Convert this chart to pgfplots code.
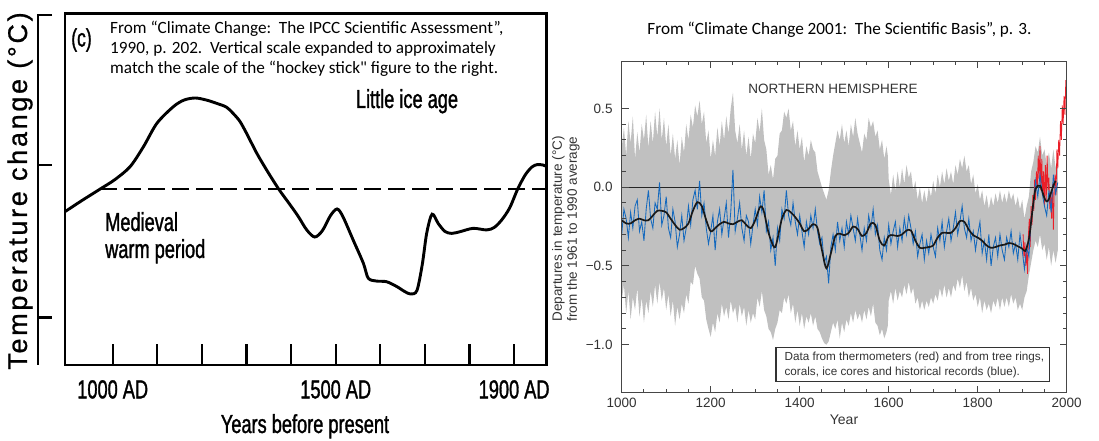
\documentclass[border=0pt]{standalone}
\usepackage{fontspec}
\setmainfont{Liberation Sans}
\newfontfamily\narrowfont[FakeStretch=0.7,FakeBold=1.2]{Liberation Sans}
\newfontfamily\carlito{Carlito}
\newfontfamily\widefont[LetterSpace=10,FakeBold=0.8]{Liberation Sans}
\usepackage{pgfplots}
\pgfplotsset{compat=1.18}
\definecolor{hsblue}{RGB}{20,105,190}
\definecolor{hsred}{RGB}{235,30,40}
\definecolor{hsgray}{RGB}{192,192,192}
\definecolor{txtgray}{RGB}{51,51,51}
\definecolor{axgray}{RGB}{70,70,70}
\begin{document}
\begin{tikzpicture}[x=1pt,y=1pt]
\useasboundingbox (0,0) rectangle (1099,441);
% ---------------- left panel (IPCC 1990) ----------------
\begin{axis}[at={(65pt,76pt)}, anchor=south west, scale only axis,
  width=481.7pt, height=351.7pt,
  xmin=893, xmax=1973, ymin=-1.118, ymax=1.116,
  axis line style={line width=2.7pt, black},
  xtick={1000,1100,...,1900},
  xticklabels={1000 AD,,,,,1500 AD,,,,1900 AD},
  ytick=\empty, xtick pos=bottom, tick align=inside,
  major tick length=21pt,
  major tick style={line width=2.2pt, black},
  xticklabel style={font=\narrowfont\fontsize{26}{30}\selectfont, inner sep=0pt, yshift=-15pt}]
\addplot[black, line width=2.7pt, dash pattern=on 17pt off 7pt] coordinates {(972,0) (1973,0)};
\addplot[black, line width=2.9pt, smooth, tension=0.5] coordinates {
(893,-0.144) (930,-0.075) (972,0.0) (1005,0.06) (1039,0.142) (1069,0.269) (1099,0.417)
(1136,0.523) (1160,0.565) (1185,0.578) (1210,0.565) (1233,0.544) (1255,0.52) (1270,0.48)
(1285,0.43) (1300,0.354) (1323,0.227) (1345,0.121) (1372,0.0) (1395,-0.09) (1415,-0.17)
(1435,-0.26) (1453,-0.305) (1470,-0.265) (1488,-0.17) (1503,-0.127) (1516,-0.175)
(1540,-0.33) (1562,-0.472) (1573,-0.567) (1592,-0.585) (1614,-0.589) (1637,-0.62)
(1655,-0.652) (1668,-0.667) (1682,-0.645) (1694,-0.48) (1704,-0.28) (1716,-0.16)
(1730,-0.22) (1745,-0.27) (1760,-0.282) (1779,-0.271) (1808,-0.25) (1838,-0.26)
(1855,-0.245) (1872,-0.197) (1890,-0.12) (1908,0.0) (1925,0.09) (1940,0.14)
(1952,0.155) (1965,0.152) (1973,0.142)};
\end{axis}
% bracket axis at far left
\draw[line width=2.5pt] (52,426) -- (38,426) -- (38,76);
\draw[line width=2.5pt] (38,276) -- (52,276);
\draw[line width=2.5pt] (38,123.3) -- (52,123.3);
\node[rotate=90] at (20,250) {\widefont\fontsize{27}{30}\selectfont Temperature change (°C)};
\node at (81.5,401) {\narrowfont\fontsize{25}{28}\selectfont (c)};
\node[anchor=base west, inner sep=0pt] at (110,407) {\carlito\fontsize{17.2}{20}\selectfont From “Climate Change:\ \ The IPCC Scientific Assessment”,};
\node[anchor=base west, inner sep=0pt] at (110,387) {\carlito\fontsize{17.2}{20}\selectfont 1990, p. 202.\ \ Vertical scale expanded to approximately};
\node[anchor=base west, inner sep=0pt] at (110,367) {\carlito\fontsize{17.2}{20}\selectfont match the scale of the “hockey stick" figure to the right.};
\node[anchor=base, inner sep=0pt] at (407,333) {\narrowfont\fontsize{26}{30}\selectfont Little ice age};
\node[anchor=base west, inner sep=0pt] at (105,210) {\narrowfont\fontsize{26}{30}\selectfont Medieval};
\node[anchor=base west, inner sep=0pt] at (105,183) {\narrowfont\fontsize{26}{30}\selectfont warm period};
\node[anchor=base, inner sep=0pt] at (305,8) {\narrowfont\fontsize{26}{30}\selectfont Years before present};
% ---------------- right panel (IPCC 2001) ----------------
\begin{axis}[at={(621.7pt,48.3pt)}, anchor=south west, scale only axis,
  width=445pt, height=331.5pt,
  xmin=1000, xmax=2000, ymin=-1.305, ymax=0.8,
  axis line style={line width=1.3pt, axgray},
  xtick={1000,1200,...,2000}, xticklabels={1000,1200,1400,1600,1800,2000},
  ytick={-1,-0.5,0,0.5}, yticklabels={−1.0,−0.5,0.0,0.5},
  minor x tick num=3, minor y tick num=4,
  tick align=inside, major tick length=7pt, minor tick length=4pt,
  major tick style={axgray, line width=1.1pt},
  minor tick style={axgray, line width=1.0pt},
  ticklabel style={font=\fontsize{13.5}{16}\selectfont, text=txtgray, inner sep=0pt},
  xticklabel style={yshift=-5.5pt}, yticklabel style={xshift=-9pt},
  axis on top]
% uncertainty band: upper edge 1000->1980, then lower edge 1980->1000
\addplot[fill=hsgray, draw=none] coordinates {
(1000,0.25) (1005,0.38) (1010,0.20) (1015,0.42) (1020,0.28) (1025,0.45) (1030,0.18) (1035,0.35)
(1040,0.22) (1045,0.40) (1050,0.30) (1055,0.46) (1060,0.25) (1065,0.42) (1070,0.28) (1075,0.48)
(1080,0.32) (1085,0.50) (1090,0.30) (1095,0.44) (1100,0.26) (1105,0.40) (1110,0.20) (1115,0.34)
(1120,0.18) (1125,0.30) (1130,0.14) (1135,0.32) (1140,0.22) (1145,0.40) (1150,0.30) (1155,0.46)
(1160,0.38) (1165,0.52) (1170,0.45) (1175,0.55) (1180,0.40) (1185,0.48) (1190,0.28) (1195,0.36)
(1200,0.18) (1205,0.30) (1210,0.20) (1215,0.38) (1220,0.26) (1225,0.42) (1230,0.30) (1235,0.45)
(1240,0.34) (1245,0.50) (1250,0.60) (1255,0.36) (1260,0.28) (1265,0.40) (1270,0.24) (1275,0.36)
(1280,0.20) (1285,0.32) (1290,0.18) (1295,0.34) (1300,0.28) (1305,0.44) (1310,0.35) (1315,0.50)
(1320,0.30) (1325,0.24) (1330,0.08) (1335,0.14) (1340,0.05) (1345,0.18) (1350,0.20) (1355,0.34)
(1360,0.36) (1365,0.48) (1370,0.44) (1375,0.50) (1380,0.36) (1385,0.42) (1390,0.26) (1395,0.36)
(1400,0.24) (1405,0.32) (1410,0.16) (1415,0.26) (1420,0.20) (1425,0.30) (1430,0.24) (1435,0.22)
(1440,0.10) (1445,0.05) (1450,0.00) (1455,-0.04) (1460,-0.08) (1465,-0.02) (1470,0.10) (1475,0.20)
(1480,0.28) (1485,0.36) (1490,0.30) (1495,0.40) (1500,0.28) (1505,0.36) (1510,0.26) (1515,0.40)
(1520,0.32) (1525,0.44) (1530,0.34) (1535,0.28) (1540,0.22) (1545,0.34) (1550,0.30) (1555,0.44)
(1560,0.38) (1565,0.42) (1570,0.32) (1575,0.36) (1580,0.24) (1585,0.30) (1590,0.18) (1595,0.26)
(1598,0.20) (1600,0.05) (1605,-0.05) (1610,0.08) (1615,-0.02) (1620,0.10) (1625,0.00) (1630,0.12)
(1635,0.02) (1640,0.14) (1645,0.06) (1650,0.10) (1655,-0.02) (1660,0.04) (1665,-0.08) (1670,0.00)
(1675,-0.10) (1680,-0.02) (1685,-0.10) (1690,0.00) (1695,-0.06) (1700,0.04) (1705,-0.04) (1710,0.08)
(1715,0.00) (1720,0.10) (1725,0.02) (1730,0.12) (1735,0.04) (1740,0.10) (1745,0.02) (1750,0.14)
(1755,0.08) (1760,0.18) (1765,0.12) (1770,0.20) (1775,0.10) (1780,0.14) (1785,0.02) (1790,0.08)
(1795,-0.04) (1800,0.02) (1805,-0.08) (1810,-0.02) (1815,-0.12) (1820,-0.05) (1825,-0.14) (1830,-0.06)
(1835,-0.12) (1840,-0.04) (1845,-0.10) (1850,-0.02) (1855,-0.10) (1860,-0.04) (1865,-0.10) (1870,-0.02)
(1875,-0.08) (1880,-0.04) (1885,-0.12) (1890,-0.06) (1895,-0.14) (1900,-0.08) (1905,-0.20) (1910,-0.12)
(1915,-0.06) (1920,0.10) (1925,0.16) (1930,0.26) (1935,0.22) (1940,0.32) (1945,0.20) (1950,0.24)
(1955,0.14) (1960,0.22) (1965,0.12) (1970,0.24) (1975,0.12) (1980,0.20)
(1980,-0.40) (1975,-0.48) (1970,-0.40) (1965,-0.50) (1960,-0.38) (1955,-0.46) (1950,-0.36) (1945,-0.40)
(1940,-0.30) (1935,-0.38) (1930,-0.34) (1925,-0.40) (1920,-0.48) (1915,-0.56) (1910,-0.66) (1905,-0.70)
(1900,-0.78) (1895,-0.74) (1890,-0.78) (1885,-0.70) (1880,-0.74) (1875,-0.68) (1870,-0.76) (1865,-0.70)
(1860,-0.76) (1855,-0.70) (1850,-0.78) (1845,-0.70) (1840,-0.76) (1835,-0.72) (1830,-0.80) (1825,-0.74)
(1820,-0.78) (1815,-0.72) (1810,-0.80) (1805,-0.70) (1800,-0.76) (1795,-0.68) (1790,-0.72) (1785,-0.64)
(1780,-0.70) (1775,-0.60) (1770,-0.66) (1765,-0.56) (1760,-0.64) (1755,-0.58) (1750,-0.66) (1745,-0.62)
(1740,-0.70) (1735,-0.64) (1730,-0.70) (1725,-0.62) (1720,-0.70) (1715,-0.64) (1710,-0.72) (1705,-0.68)
(1700,-0.74) (1695,-0.70) (1690,-0.76) (1685,-0.72) (1680,-0.78) (1675,-0.72) (1670,-0.78) (1665,-0.70)
(1660,-0.74) (1655,-0.64) (1650,-0.68) (1645,-0.60) (1640,-0.68) (1635,-0.62) (1630,-0.70) (1625,-0.66)
(1620,-0.72) (1615,-0.64) (1610,-0.74) (1605,-0.66) (1600,-0.72) (1598,-0.88) (1595,-0.92) (1590,-0.96)
(1585,-0.90) (1580,-0.94) (1575,-0.88) (1570,-0.86) (1565,-0.74) (1560,-0.82) (1555,-0.76) (1550,-0.84)
(1545,-0.78) (1540,-0.86) (1535,-0.80) (1530,-0.84) (1525,-0.78) (1520,-0.86) (1515,-0.80) (1510,-0.88)
(1505,-0.84) (1500,-0.92) (1495,-0.86) (1490,-0.96) (1485,-0.84) (1480,-0.90) (1475,-0.86) (1470,-0.92)
(1465,-0.98) (1460,-1.00) (1455,-0.99) (1450,-0.96) (1445,-0.92) (1440,-0.90) (1435,-0.82) (1430,-0.88)
(1425,-0.80) (1420,-0.86) (1415,-0.82) (1410,-0.90) (1405,-0.80) (1400,-0.88) (1395,-0.78) (1390,-0.86)
(1385,-0.74) (1380,-0.80) (1375,-0.68) (1370,-0.74) (1365,-0.70) (1360,-0.80) (1355,-0.78) (1350,-0.86)
(1345,-0.90) (1340,-0.97) (1335,-0.92) (1330,-0.90) (1325,-0.82) (1320,-0.78) (1315,-0.66) (1310,-0.76)
(1305,-0.70) (1300,-0.84) (1295,-0.80) (1290,-0.86) (1285,-0.78) (1280,-0.88) (1275,-0.76) (1270,-0.82)
(1265,-0.74) (1260,-0.86) (1255,-0.76) (1250,-0.80) (1245,-0.72) (1240,-0.84) (1235,-0.76) (1230,-0.82)
(1225,-0.74) (1220,-0.86) (1215,-0.80) (1210,-0.92) (1205,-0.86) (1200,-0.95) (1195,-0.90) (1190,-0.84)
(1185,-0.72) (1180,-0.70) (1175,-0.58) (1170,-0.55) (1165,-0.50) (1160,-0.62) (1155,-0.60) (1150,-0.74)
(1145,-0.68) (1140,-0.80) (1135,-0.74) (1130,-0.84) (1125,-0.76) (1120,-0.88) (1115,-0.72) (1110,-0.82)
(1105,-0.68) (1100,-0.78) (1095,-0.64) (1090,-0.72) (1085,-0.60) (1080,-0.74) (1075,-0.62) (1070,-0.76)
(1065,-0.66) (1060,-0.80) (1055,-0.72) (1050,-0.86) (1045,-0.70) (1040,-0.82) (1035,-0.64) (1030,-0.78)
(1025,-0.70) (1020,-0.84) (1015,-0.66) (1010,-0.80) (1005,-0.62) (1000,-0.72)} -- cycle;
\addplot[black!85, line width=1.1pt] coordinates {(1000,0) (2000,0)};
\addplot[hsred, line width=0.8pt] coordinates {
(1902,-0.30) (1904,-0.45) (1906,-0.35) (1908,-0.50) (1910,-0.40) (1912,-0.55) (1914,-0.30) (1916,-0.20)
(1918,-0.38) (1920,-0.12) (1922,-0.24) (1924,-0.05) (1926,-0.15) (1928,0.05) (1930,-0.08) (1932,0.10)
(1934,0.00) (1936,0.20) (1938,0.05) (1940,0.26) (1942,-0.02) (1944,0.18) (1946,-0.05) (1948,0.10)
(1950,-0.12) (1952,0.14) (1954,-0.08) (1956,0.20) (1958,-0.02) (1960,0.06) (1962,-0.14) (1964,-0.04)
(1966,-0.20) (1968,0.02) (1970,-0.27) (1972,0.00) (1974,0.08) (1976,-0.05) (1978,0.24) (1980,0.12)
(1982,0.30) (1984,0.20) (1986,0.42) (1988,0.30) (1990,0.52) (1992,0.40) (1994,0.58) (1996,0.46) (1998,0.68)};
\addplot[hsblue, line width=0.85pt] coordinates {
(1000,-0.30) (1005,-0.14) (1010,-0.20) (1015,-0.32) (1020,-0.16) (1025,-0.26) (1030,-0.12) (1035,-0.08)
(1040,-0.28) (1045,-0.22) (1050,-0.34) (1055,-0.14) (1060,-0.02) (1065,-0.20) (1070,-0.26) (1075,-0.10)
(1080,-0.14) (1085,0.03) (1090,-0.24) (1095,-0.18) (1100,-0.06) (1105,-0.26) (1110,-0.32) (1115,-0.14)
(1120,-0.22) (1125,-0.38) (1130,-0.30) (1135,-0.18) (1140,-0.34) (1145,-0.26) (1150,-0.12) (1155,-0.24)
(1160,-0.08) (1165,-0.02) (1170,-0.14) (1175,0.04) (1180,-0.18) (1185,-0.10) (1190,-0.26) (1195,-0.36)
(1200,-0.28) (1205,-0.18) (1210,-0.40) (1215,-0.22) (1220,-0.14) (1225,-0.30) (1230,-0.20) (1235,-0.10)
(1240,-0.32) (1245,-0.16) (1250,0.11) (1255,-0.28) (1260,-0.20) (1265,-0.10) (1270,-0.26) (1275,-0.34)
(1280,-0.18) (1285,-0.22) (1290,-0.36) (1295,-0.24) (1300,-0.14) (1305,-0.24) (1310,-0.06) (1315,-0.16)
(1320,-0.02) (1325,-0.28) (1330,-0.22) (1335,-0.40) (1340,-0.32) (1345,-0.50) (1350,-0.26) (1355,-0.34)
(1360,-0.14) (1365,-0.20) (1370,-0.02) (1375,-0.18) (1380,-0.24) (1385,-0.10) (1390,-0.22) (1395,-0.30)
(1400,-0.18) (1405,-0.28) (1410,-0.38) (1415,-0.22) (1420,-0.30) (1425,-0.18) (1430,-0.26) (1435,-0.14)
(1440,-0.28) (1445,-0.36) (1450,-0.32) (1455,-0.48) (1460,-0.44) (1465,-0.61) (1470,-0.38) (1475,-0.30)
(1480,-0.40) (1485,-0.22) (1490,-0.34) (1495,-0.26) (1500,-0.38) (1505,-0.22) (1510,-0.30) (1515,-0.18)
(1520,-0.26) (1525,-0.34) (1530,-0.20) (1535,-0.30) (1540,-0.40) (1545,-0.26) (1550,-0.34) (1555,-0.18)
(1560,-0.26) (1565,-0.14) (1570,-0.30) (1575,-0.24) (1580,-0.40) (1585,-0.46) (1590,-0.32) (1595,-0.40)
(1600,-0.24) (1605,-0.36) (1610,-0.28) (1615,-0.22) (1620,-0.38) (1625,-0.26) (1630,-0.34) (1635,-0.20)
(1640,-0.30) (1645,-0.18) (1650,-0.26) (1655,-0.36) (1660,-0.28) (1665,-0.44) (1670,-0.36) (1675,-0.30)
(1680,-0.46) (1685,-0.34) (1690,-0.42) (1695,-0.30) (1700,-0.38) (1705,-0.44) (1710,-0.26) (1715,-0.34)
(1720,-0.22) (1725,-0.38) (1730,-0.28) (1735,-0.20) (1740,-0.34) (1745,-0.26) (1750,-0.16) (1755,-0.30)
(1760,-0.22) (1765,-0.12) (1770,-0.26) (1775,-0.32) (1780,-0.20) (1785,-0.34) (1790,-0.28) (1795,-0.40)
(1800,-0.30) (1805,-0.22) (1810,-0.42) (1815,-0.34) (1820,-0.46) (1825,-0.30) (1830,-0.50) (1835,-0.38)
(1840,-0.32) (1845,-0.44) (1850,-0.30) (1855,-0.40) (1860,-0.46) (1865,-0.32) (1870,-0.38) (1875,-0.28)
(1880,-0.42) (1885,-0.36) (1890,-0.46) (1895,-0.30) (1900,-0.40) (1905,-0.52) (1910,-0.38) (1915,-0.44)
(1920,-0.20) (1925,-0.12) (1930,0.04) (1935,-0.06) (1940,0.08) (1945,-0.04) (1950,-0.12) (1955,-0.18)
(1960,-0.02) (1965,-0.16) (1970,0.08) (1975,-0.04) (1980,0.03)};
\addplot[black!90, line width=1.7pt, smooth] coordinates {
(1000,-0.21) (1010,-0.23) (1020,-0.23) (1030,-0.21) (1040,-0.20) (1050,-0.21) (1060,-0.21) (1070,-0.18)
(1080,-0.15) (1090,-0.15) (1100,-0.16) (1110,-0.20) (1120,-0.24) (1130,-0.27) (1140,-0.26) (1150,-0.23)
(1160,-0.15) (1170,-0.095) (1180,-0.12) (1190,-0.21) (1200,-0.28) (1210,-0.26) (1220,-0.235) (1230,-0.22)
(1240,-0.23) (1250,-0.235) (1260,-0.22) (1270,-0.21) (1280,-0.24) (1290,-0.26) (1300,-0.21) (1310,-0.13)
(1315,-0.125) (1320,-0.16) (1330,-0.29) (1340,-0.37) (1345,-0.38) (1350,-0.33) (1360,-0.20) (1370,-0.145)
(1380,-0.16) (1390,-0.19) (1400,-0.23) (1410,-0.28) (1420,-0.265) (1430,-0.235) (1440,-0.26) (1450,-0.40)
(1460,-0.515) (1470,-0.42) (1480,-0.31) (1490,-0.295) (1500,-0.305) (1510,-0.29) (1520,-0.25) (1530,-0.265)
(1540,-0.31) (1550,-0.29) (1560,-0.23) (1570,-0.24) (1580,-0.34) (1590,-0.37) (1600,-0.31) (1610,-0.305)
(1620,-0.31) (1630,-0.30) (1640,-0.275) (1650,-0.275) (1660,-0.34) (1670,-0.385) (1680,-0.385) (1690,-0.38)
(1700,-0.37) (1710,-0.32) (1720,-0.29) (1730,-0.29) (1740,-0.29) (1750,-0.26) (1760,-0.215) (1770,-0.22)
(1780,-0.27) (1790,-0.305) (1800,-0.32) (1810,-0.34) (1820,-0.37) (1830,-0.385) (1840,-0.38) (1850,-0.37)
(1860,-0.365) (1870,-0.355) (1880,-0.36) (1890,-0.375) (1900,-0.39) (1907,-0.405) (1915,-0.33) (1920,-0.22)
(1925,-0.10) (1930,-0.01) (1940,0.01) (1950,-0.07) (1955,-0.09) (1960,-0.075) (1970,0.01) (1975,0.04)};
\end{axis}
% right panel texts
\node[anchor=base, inner sep=0pt] at (839.5,406) {\carlito\fontsize{17.2}{20}\selectfont From “Climate Change 2001:\ \ The Scientific Basis”, p. 3.};
\node[rotate=90, text=txtgray] at (558.3,212) {\fontsize{13.5}{16}\selectfont Departures in temperature (°C)};
\node[rotate=90, text=txtgray] at (573.3,212) {\fontsize{13.5}{16}\selectfont from the 1961 to 1990 average};
\node[anchor=base, inner sep=0pt, text=txtgray] at (844,16) {\fontsize{14}{17}\selectfont Year};
\node[text=txtgray] at (833,352.5) {\fontsize{13.5}{16}\selectfont NORTHERN HEMISPHERE};
\draw[txtgray, line width=1.2pt, fill=white] (776,59.3) rectangle (1049.5,93.7);
\node[anchor=base west, inner sep=0pt, text=txtgray] at (784.4,80) {\fontsize{11.7}{14}\selectfont Data from thermometers (red) and from tree rings,};
\node[anchor=base west, inner sep=0pt, text=txtgray] at (784.4,65) {\fontsize{11.7}{14}\selectfont corals, ice cores and historical records (blue).};
\end{tikzpicture}
\end{document}
